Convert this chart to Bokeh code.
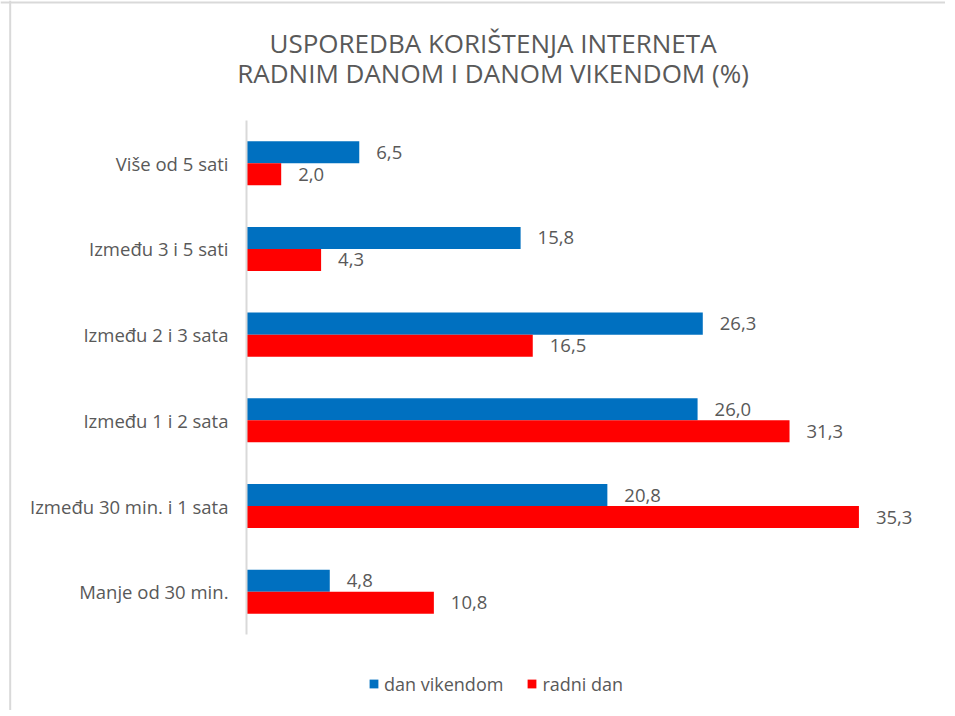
from bokeh.plotting import figure
from bokeh.models import Range1d, Label, Legend, LegendItem, ColumnDataSource, FixedTicker, Span
from bokeh.transform import dodge
from bokeh.embed import file_html
from bokeh.resources import INLINE

categories = ["Manje od 30 min.", "Između 30 min. i 1 sata", "Između 1 i 2 sata",
              "Između 2 i 3 sata", "Između 3 i 5 sati", "Više od 5 sati"]
vikend = [4.8, 20.8, 26.0, 26.3, 15.8, 6.5]
radni = [10.8, 35.3, 31.3, 16.5, 4.3, 2.0]
series_names = ["dan vikendom", "radni dan"]
title_lines = ["USPOREDBA KORIŠTENJA INTERNETA", "RADNIM DANOM I DANOM VIKENDOM (%)"]

GRAY = "#595959"
FONT = "Open Sans"
pos = list(range(len(categories)))

src = ColumnDataSource(dict(
    y=pos,
    vikend=vikend,
    radni=radni,
    vlab=[f"{v:.1f}".replace(".", ",") for v in vikend],
    rlab=[f"{v:.1f}".replace(".", ",") for v in radni],
))

p = figure(width=945, height=710, x_range=Range1d(-14.179, 40.29), y_range=Range1d(-1.385, 6.898),
           output_backend="svg", toolbar_location=None, x_axis_location=None,
           min_border_left=0, min_border_right=0, min_border_top=0, min_border_bottom=0)

# light chart-area border (left and top)
p.add_layout(Span(location=-13.62, dimension="height", line_color="#d9d9d9", line_width=2))
p.add_layout(Span(location=6.875, dimension="width", line_color="#d9d9d9", line_width=2))

bh = 0.2567
off = bh / 2
r1 = p.hbar(y=dodge("y", off, range=p.y_range), right="vikend", left=0, height=bh,
            source=src, fill_color="#0070c0", line_color=None)
r2 = p.hbar(y=dodge("y", -off, range=p.y_range), right="radni", left=0, height=bh,
            source=src, fill_color="#ff0000", line_color=None)

for col, lab, o in (("vikend", "vlab", off), ("radni", "rlab", -off)):
    p.text(x=col, y=dodge("y", o, range=p.y_range), text=lab, source=src,
           x_offset=17, text_align="left", text_baseline="middle",
           text_font={"value": FONT}, text_font_size="18.5px", text_color=GRAY)

p.yaxis.fixed_location = 0
p.yaxis.ticker = FixedTicker(ticks=pos)
p.yaxis.bounds = (-0.5, 5.5)
p.yaxis.major_label_overrides = {i: c for i, c in zip(pos, categories)}
p.yaxis.axis_line_color = "#d9d9d9"
p.yaxis.axis_line_width = 2
p.yaxis.major_tick_line_color = None
p.yaxis.minor_tick_line_color = None
p.yaxis.major_tick_out = 0
p.yaxis.major_tick_in = 0
p.yaxis.major_label_standoff = 18
p.yaxis.major_label_text_font = FONT
p.yaxis.major_label_text_font_size = "18.5px"
p.yaxis.major_label_text_color = GRAY

p.xgrid.visible = False
p.ygrid.visible = False
p.outline_line_color = None

for txt, yy in zip(title_lines, (6.408, 6.058)):
    p.add_layout(Label(x=14.21, y=yy, text=txt, text_align="center", text_baseline="middle",
                       text_font=FONT, text_font_size="26px", text_color=GRAY))

legend = Legend(items=[LegendItem(label=series_names[0], renderers=[r1]),
                       LegendItem(label=series_names[1], renderers=[r2])],
                orientation="horizontal", location=(368, 14.5),
                glyph_width=11, glyph_height=11, label_standoff=5, spacing=23,
                padding=0, margin=0, border_line_color=None, background_fill_alpha=0,
                label_text_font=FONT, label_text_font_size="18px", label_text_color=GRAY)
p.add_layout(legend, "center")

open("out.html", "w").write(file_html(p, INLINE))
